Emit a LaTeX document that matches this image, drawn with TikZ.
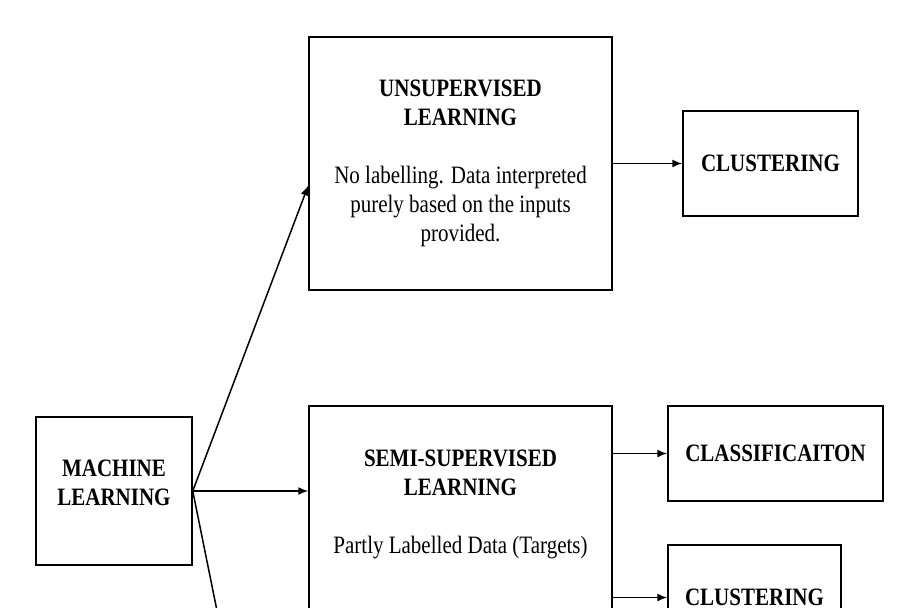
\documentclass[tikz,border=0pt]{standalone}
\usepackage{fontspec}
\setmainfont[FakeStretch=0.84]{Liberation Serif}
\usepackage{tikz}
\usetikzlibrary{arrows.meta,positioning,calc}

\begin{document}
\begin{tikzpicture}[
  x=1pt,y=-1pt,
  font=\fontsize{25}{29}\selectfont,
  every node/.style={align=center},
  mlbox/.style={draw,line width=1.5pt,inner sep=0pt},
  flow/.style={-{Latex[length=10pt,width=8pt]},line width=1.5pt}
]
\clip (0,0) rectangle (901,607);
\useasboundingbox (0,0) rectangle (901,607);

% Boxes
\node[mlbox,minimum width=156,minimum height=148] (ml) at (114,491)
  {\textbf{MACHINE}\\\textbf{LEARNING}\\[-12pt]};
\node[mlbox,minimum width=303,minimum height=253] (unsup) at (460.5,163.5)
  {\textbf{UNSUPERVISED}\\\textbf{LEARNING}\\[29pt]
   No labelling. Data interpreted\\purely based on the inputs\\provided.};
\node[mlbox,minimum width=175,minimum height=105] (clust) at (770.5,163.5)
  {\textbf{CLUSTERING}};

\node[mlbox,minimum width=303,minimum height=253] (semi) at (460.5,532.5) {};
\node[below=41pt of semi.north,anchor=north] (semitxt)
  {\textbf{SEMI-SUPERVISED}\\\textbf{LEARNING}\\[29pt]Partly Labelled Data (Targets)};
\node[mlbox,minimum width=215,minimum height=95] (classif) at (775.5,453.5)
  {\textbf{CLASSIFICAITON}};
\node[mlbox,minimum width=173,minimum height=105] (clust2) at (754.5,597.5)
  {\textbf{CLUSTERING}};

% Arrows
\coordinate (sup) at (228,665);
\draw[flow] (ml.east) -- ([yshift=-22pt]unsup.west);
\draw[flow] (ml.east) -- (ml.east -| semi.west);
\draw[flow] (ml.east) -- (sup);
\draw[flow] (unsup.east) -- (clust.west);
\draw[flow] (semi.east |- classif.west) -- (classif.west);
\draw[flow] (semi.east |- clust2.west) -- (clust2.west);
\end{tikzpicture}
\end{document}
